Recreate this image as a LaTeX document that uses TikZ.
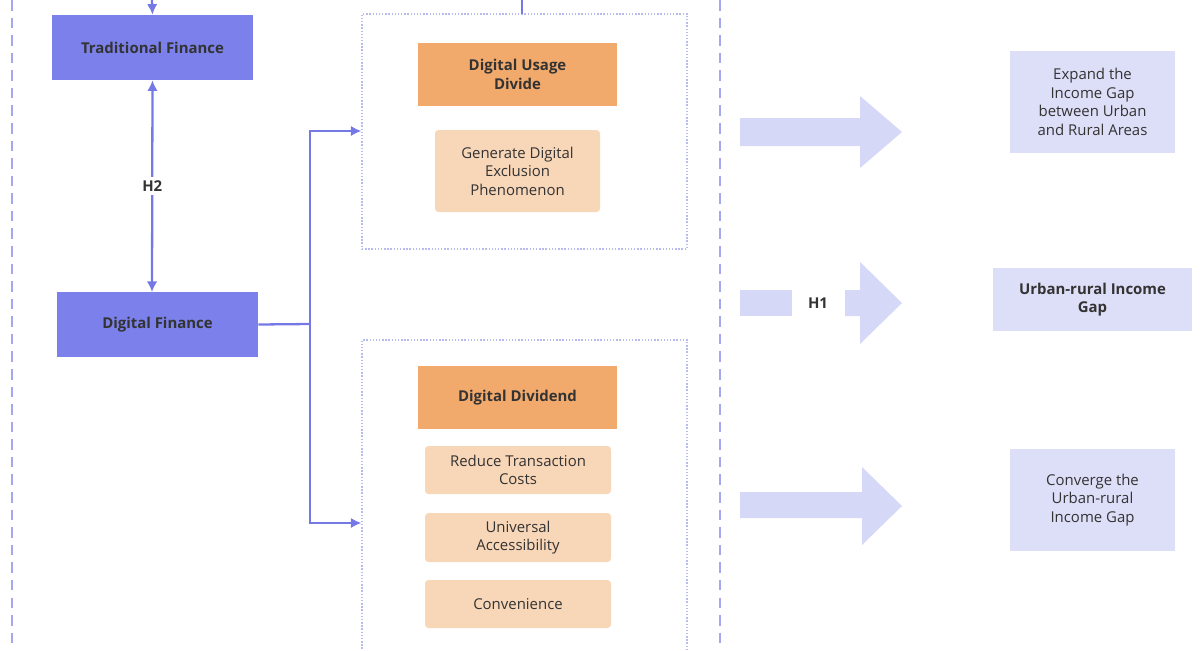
\documentclass[tikz,border=0pt]{standalone}
\usepackage{fontspec}
\setmainfont{Open Sans}
\usetikzlibrary{arrows.meta}
\definecolor{fblue}{HTML}{7B80EA}
\definecolor{lblue}{HTML}{7479E6}
\definecolor{orng}{HTML}{F2AA6C}
\definecolor{peach}{HTML}{F8D6B8}
\definecolor{lav}{HTML}{D6D8F7}
\definecolor{rbox}{HTML}{DDDEF8}
\definecolor{txt}{HTML}{333333}
\definecolor{dotc}{HTML}{B8BBF0}
\begin{document}
\begin{tikzpicture}[x=0.2mm,y=-0.2mm,font=\fontsize{8.5}{10.5}\selectfont,
  box/.style={inner sep=0pt,align=center,text=txt},
  conn/.style={draw=lblue,line width=1.3pt},
  arr/.style={conn,-{Latex[length=6pt,width=6pt]}},
  bigarr/.style={fill=lav,draw=none}]
\useasboundingbox (0,0) rectangle (1200,650);
\draw[dotc!90!blue,dashed,line width=0.8pt,dash pattern=on 6pt off 4pt] (12,0) -- (12,650) (720,0) -- (720,650);
% left nodes
\node[box,fill=fblue,minimum width=201*0.2mm,minimum height=65*0.2mm,font=\fontsize{8.5}{10.5}\selectfont\bfseries] (tf) at (152.5,47.5) {Traditional Finance};
\node[box,fill=fblue,minimum width=201*0.2mm,minimum height=65*0.2mm,font=\fontsize{8.5}{10.5}\selectfont\bfseries] (df) at (157.5,324.5) {Digital Finance};
\coordinate (ttop) at (152,0);
\draw[arr] (ttop) -- (tf.north);
\draw[conn,{Latex[length=6pt,width=6pt]}-{Latex[length=6pt,width=6pt]}] (tf.south) -- node[fill=white,inner sep=2pt,font=\fontsize{8.5}{10.5}\selectfont\bfseries,text=txt] (h2) {H2} (152,292);
% dotted boxes
\node[draw=dotc,densely dotted,line width=0.8pt,minimum width=325*0.2mm,minimum height=235*0.2mm,inner sep=0pt] (ub) at (524.5,131.5) {};
\node[draw=dotc,densely dotted,line width=0.8pt,minimum width=325*0.2mm,minimum height=330*0.2mm,inner sep=0pt] (lb) at (524.5,505) {};
\coordinate (utop) at (522,0);
\draw[conn] (utop) -- (522,14);
\coordinate (br) at (310,324);
\draw[conn] (df.east) -- (br);
\draw[arr] (br) |- (ub.west |- 0,131);
\draw[arr] (br) |- (lb.west |- 0,523);
% inner nodes
\node[box,fill=orng,minimum width=199*0.2mm,minimum height=63*0.2mm,font=\fontsize{8.5}{10.5}\selectfont\bfseries] (dud) at (517.5,74.5) {Digital Usage\\Divide};
\node[box,fill=peach,rounded corners=2pt,minimum width=165*0.2mm,minimum height=82*0.2mm] (gde) at (517.5,171) {Generate Digital\\Exclusion\\Phenomenon};
\node[box,fill=orng,minimum width=199*0.2mm,minimum height=63*0.2mm,font=\fontsize{8.5}{10.5}\selectfont\bfseries] (dd) at (517.5,397.5) {Digital Dividend};
\node[box,fill=peach,rounded corners=2pt,minimum width=186*0.2mm,minimum height=48*0.2mm] (rtc) at (518,470) {Reduce Transaction\\Costs};
\node[box,fill=peach,rounded corners=2pt,minimum width=186*0.2mm,minimum height=49*0.2mm] (ua) at (518,537.5) {Universal\\Accessibility};
\node[box,fill=peach,rounded corners=2pt,minimum width=186*0.2mm,minimum height=48*0.2mm] (cv) at (518,604) {Convenience};
% big arrows
\fill[bigarr] (740,118) -- (860,118) -- (860,96) -- (902,132) -- (860,168) -- (860,146) -- (740,146) -- cycle;
\fill[bigarr] (740,290) rectangle (792,316);
\fill[bigarr] (845,290) -- (860,290) -- (860,262) -- (902,303) -- (860,344) -- (860,316) -- (845,316) -- cycle;
\node[box,font=\fontsize{8.5}{10.5}\selectfont\bfseries] (h1) at (818,303) {H1};
\fill[bigarr] (740,492) -- (862,492) -- (862,467) -- (902,506) -- (862,545) -- (862,518) -- (740,518) -- cycle;
% right nodes
\node[box,fill=rbox,minimum width=165*0.2mm,minimum height=102*0.2mm] (eg) at (1092.5,102) {Expand the\\Income Gap\\between Urban\\and Rural Areas};
\node[box,fill=rbox,minimum width=199*0.2mm,minimum height=63*0.2mm,font=\fontsize{8.5}{10.5}\selectfont\bfseries] (urg) at (1092.5,299.5) {Urban-rural Income\\Gap};
\node[box,fill=rbox,minimum width=165*0.2mm,minimum height=102*0.2mm] (cg) at (1092.5,500) {Converge the\\Urban-rural\\Income Gap};
\end{tikzpicture}
\end{document}
